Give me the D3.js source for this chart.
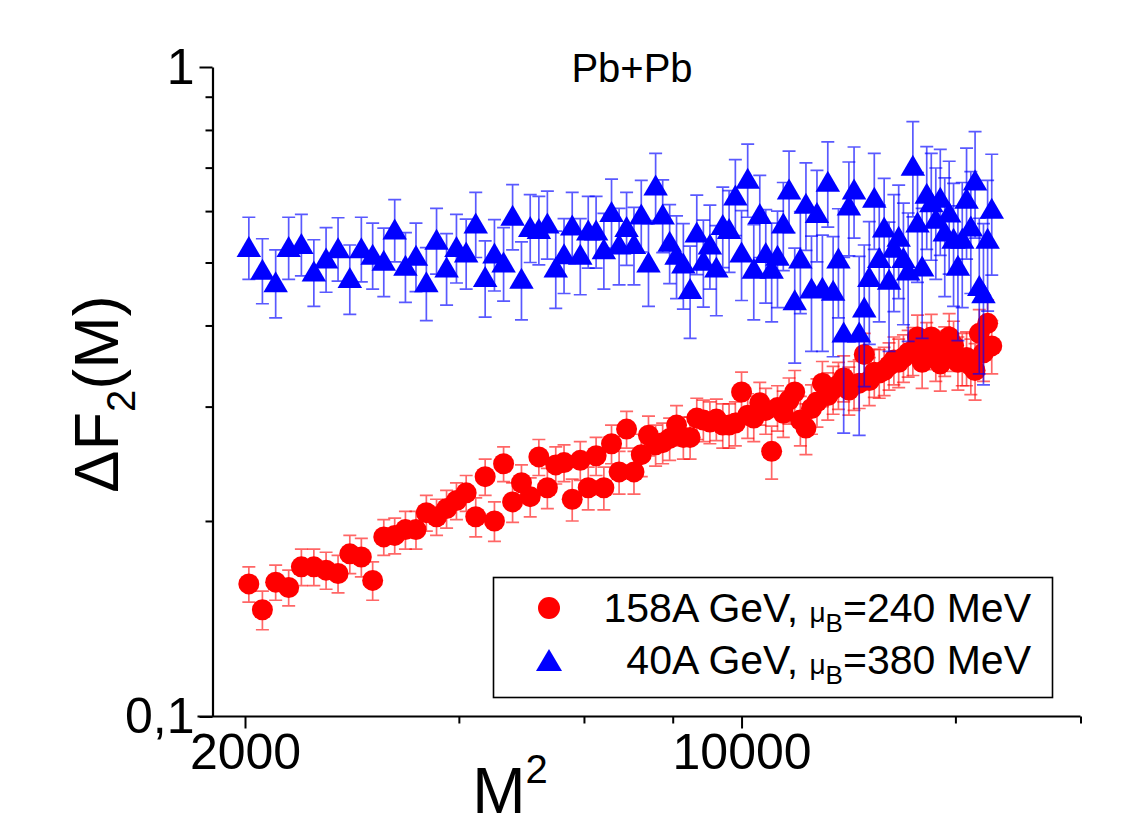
<!DOCTYPE html>
<html>
<head>
<meta charset="utf-8">
<script src="https://cdn.jsdelivr.net/npm/d3@7"></script>
<style>
  body { margin: 0; background: #fff; }
  svg { display: block; font-family: "Liberation Sans", Arial, sans-serif; }
</style>
</head>
<body>
<div id="chart"></div>
<script>
// M values (x is M^2)
const massValues = [
    45, 46, 47, 48, 49, 50, 51, 52, 53, 54,
    55, 56, 57, 58, 59, 60, 61, 62, 63, 64,
    65, 66, 67, 68, 69, 70, 71, 72, 73, 74,
    75, 76, 77, 78, 79, 80, 81, 82, 83, 84,
    85, 86, 87, 88, 89, 90, 91, 92, 93, 94,
    95, 96, 97, 98, 99, 100, 101, 102, 103, 104,
    105, 106, 107, 108, 109, 110, 111, 112, 113, 114,
    115, 116, 117, 118, 119, 120, 121, 122, 123, 124,
    125, 126, 127, 128, 129, 130, 131, 132, 133, 134,
    135, 136, 137, 138, 139, 140, 141, 142, 143, 144,
    145, 146, 147, 148, 149, 150
];

// 158A GeV
const redValues = [
    0.160, 0.146, 0.161, 0.158, 0.170, 0.170, 0.168, 0.166, 0.178, 0.176,
    0.162, 0.189, 0.190, 0.194, 0.194, 0.206, 0.203, 0.209, 0.215, 0.221,
    0.203, 0.234, 0.200, 0.245, 0.214, 0.229, 0.218, 0.251, 0.225, 0.244,
    0.246, 0.216, 0.248, 0.225, 0.252, 0.225, 0.263, 0.238, 0.277, 0.238,
    0.253, 0.271, 0.262, 0.264, 0.268, 0.281, 0.269, 0.269, 0.288, 0.286,
    0.284, 0.287, 0.281, 0.281, 0.283, 0.316, 0.291, 0.288, 0.304, 0.296,
    0.256, 0.299, 0.293, 0.307, 0.316, 0.286, 0.278, 0.298, 0.305, 0.326,
    0.312, 0.319, 0.324, 0.332, 0.318, 0.324, 0.326, 0.361, 0.329, 0.339,
    0.338, 0.341, 0.347, 0.354, 0.351, 0.357, 0.363, 0.366, 0.384, 0.351,
    0.373, 0.384, 0.360, 0.349, 0.366, 0.384, 0.373, 0.351, 0.356, 0.357,
    0.347, 0.341, 0.389, 0.363, 0.403, 0.372
];
const redErrors = [
    0.010, 0.010, 0.010, 0.010, 0.011, 0.011, 0.011, 0.011, 0.012, 0.012,
    0.011, 0.012, 0.012, 0.013, 0.013, 0.013, 0.013, 0.014, 0.014, 0.014,
    0.014, 0.015, 0.014, 0.015, 0.015, 0.015, 0.015, 0.016, 0.016, 0.016,
    0.016, 0.016, 0.017, 0.017, 0.017, 0.017, 0.018, 0.018, 0.018, 0.018,
    0.019, 0.019, 0.019, 0.019, 0.020, 0.020, 0.020, 0.020, 0.021, 0.021,
    0.021, 0.021, 0.022, 0.022, 0.022, 0.023, 0.023, 0.023, 0.023, 0.024,
    0.024, 0.024, 0.024, 0.025, 0.025, 0.025, 0.025, 0.026, 0.026, 0.026,
    0.026, 0.027, 0.027, 0.027, 0.027, 0.028, 0.028, 0.028, 0.028, 0.029,
    0.029, 0.029, 0.029, 0.030, 0.030, 0.030, 0.030, 0.031, 0.031, 0.031,
    0.031, 0.032, 0.032, 0.032, 0.032, 0.033, 0.033, 0.033, 0.033, 0.034,
    0.034, 0.034, 0.034, 0.035, 0.035, 0.035
];

// 40A GeV
const blueValues = [
    0.529, 0.488, 0.467, 0.529, 0.535, 0.485, 0.508, 0.527, 0.474, 0.527,
    0.515, 0.504, 0.563, 0.495, 0.513, 0.467, 0.543, 0.492, 0.529, 0.519,
    0.575, 0.476, 0.517, 0.501, 0.591, 0.473, 0.568, 0.564, 0.575, 0.492,
    0.516, 0.571, 0.515, 0.561, 0.561, 0.525, 0.599, 0.534, 0.568, 0.535,
    0.594, 0.501, 0.658, 0.594, 0.539, 0.515, 0.499, 0.456, 0.557, 0.504,
    0.534, 0.492, 0.572, 0.564, 0.635, 0.519, 0.674, 0.490, 0.595, 0.518,
    0.490, 0.513, 0.575, 0.649, 0.438, 0.508, 0.617, 0.457, 0.597, 0.458,
    0.667, 0.453, 0.508, 0.391, 0.613, 0.649, 0.391, 0.427, 0.476, 0.630,
    0.509, 0.567, 0.471, 0.528, 0.549, 0.509, 0.487, 0.706, 0.577, 0.494,
    0.639, 0.620, 0.585, 0.630, 0.559, 0.598, 0.545, 0.495, 0.545, 0.628,
    0.569, 0.670, 0.461, 0.449, 0.545, 0.606
];
const blueErrors = [
    0.058, 0.056, 0.056, 0.058, 0.058, 0.057, 0.058, 0.059, 0.058, 0.060,
    0.060, 0.061, 0.062, 0.061, 0.062, 0.060, 0.063, 0.062, 0.064, 0.064,
    0.066, 0.064, 0.065, 0.065, 0.068, 0.065, 0.068, 0.068, 0.069, 0.067,
    0.068, 0.070, 0.069, 0.071, 0.071, 0.070, 0.073, 0.072, 0.073, 0.073,
    0.075, 0.073, 0.078, 0.076, 0.075, 0.075, 0.075, 0.074, 0.078, 0.077,
    0.079, 0.078, 0.081, 0.081, 0.085, 0.082, 0.087, 0.082, 0.086, 0.085,
    0.085, 0.087, 0.089, 0.093, 0.088, 0.091, 0.095, 0.092, 0.096, 0.093,
    0.100, 0.095, 0.097, 0.118, 0.101, 0.104, 0.120, 0.105, 0.102, 0.106,
    0.104, 0.107, 0.106, 0.108, 0.109, 0.108, 0.109, 0.118, 0.111, 0.112,
    0.115, 0.116, 0.114, 0.117, 0.116, 0.118, 0.117, 0.116, 0.119, 0.122,
    0.121, 0.125, 0.124, 0.125, 0.124, 0.128
];

const xMajorTicks = [2000, 10000];
const xMinorTicks = [4000, 6000, 8000, 20000, 30000];
const yMajorTicks = [0.1, 1];
const yMinorTicks = [0.2, 0.3, 0.4, 0.5, 0.6, 0.7, 0.8, 0.9];

const xDomain = [1800, 30000];
const yDomain = [0.1, 1];

const width = 1139, height = 828;
const plot = { left: 212.5, right: 1080.5, top: 67, bottom: 716.5 };

const svg = d3.select("#chart").append("svg")
    .attr("width", width)
    .attr("height", height);

svg.append("rect").attr("width", width).attr("height", height).attr("fill", "#fff");

const x = d3.scaleLog().domain(xDomain).range([plot.left, plot.right]);
const y = d3.scaleLog().domain(yDomain).range([plot.bottom, plot.top]);

const locale = d3.formatLocale({ decimal: ",", thousands: "", grouping: [3], currency: ["", ""] });
const yFmt = locale.format("~g");

// series as row objects
const redData = massValues.map((m, i) => ({ x: m * m, y: redValues[i], e: redErrors[i] }));
const blueData = massValues.map((m, i) => ({ x: m * m, y: blueValues[i], e: blueErrors[i] }));

function drawErrorBars(g, data, color, opacity) {
    const cap = 6.5;
    const bars = g.append("g")
        .attr("stroke", color)
        .attr("stroke-opacity", opacity)
        .attr("stroke-width", 1.7)
        .attr("fill", "none");
    bars.selectAll("path")
        .data(data)
        .join("path")
        .attr("d", d => {
            const cx = x(d.x), yt = y(d.y + d.e), yb = y(d.y - d.e);
            return `M${cx},${yt}V${yb}M${cx - cap},${yt}H${cx + cap}M${cx - cap},${yb}H${cx + cap}`;
        });
}

const triangle = (w, h) => `M0,${-h / 2}L${w / 2},${h / 2}L${-w / 2},${h / 2}Z`;

// red series
drawErrorBars(svg, redData, "#ff0000", 0.6);
svg.append("g").selectAll("circle")
    .data(redData)
    .join("circle")
    .attr("cx", d => x(d.x))
    .attr("cy", d => y(d.y))
    .attr("r", 10.5)
    .attr("fill", "#ff0000");

// blue series
drawErrorBars(svg, blueData, "#0000ff", 0.65);
svg.append("g").selectAll("path")
    .data(blueData)
    .join("path")
    .attr("transform", d => `translate(${x(d.x)},${y(d.y)})`)
    .attr("d", triangle(24.5, 21))
    .attr("fill", "#0000ff");

// axes
function styleAxis(g, fontSize) {
    g.selectAll(".domain").attr("stroke", "#000").attr("stroke-width", 2.2);
    g.selectAll(".tick line").attr("stroke", "#000").attr("stroke-width", 2);
    g.selectAll(".tick text").attr("fill", "#000").attr("font-size", fontSize)
        .attr("font-family", "Liberation Sans, Arial, sans-serif");
}

const xAxisG = svg.append("g").attr("transform", `translate(0,${plot.bottom})`)
    .call(d3.axisBottom(x).tickValues(xMajorTicks).tickFormat(d3.format("d"))
        .tickSize(12).tickSizeOuter(0).tickPadding(5));
styleAxis(xAxisG, 50);
xAxisG.select(".domain").attr("d", `M${plot.left - 15},0H${plot.right}`);

const xMinorG = svg.append("g").attr("transform", `translate(0,${plot.bottom})`)
    .call(d3.axisBottom(x).tickValues(xMinorTicks).tickFormat("").tickSize(7).tickSizeOuter(0));
styleAxis(xMinorG, 10);
xMinorG.select(".domain").remove();

const yAxisG = svg.append("g").attr("transform", `translate(${plot.left},0)`)
    .call(d3.axisLeft(y).tickValues(yMajorTicks).tickFormat(yFmt)
        .tickSize(13).tickSizeOuter(0).tickPadding(5));
styleAxis(yAxisG, 50);

const yMinorG = svg.append("g").attr("transform", `translate(${plot.left},0)`)
    .call(d3.axisLeft(y).tickValues(yMinorTicks).tickFormat("").tickSize(7).tickSizeOuter(0));
styleAxis(yMinorG, 10);
yMinorG.select(".domain").remove();

// title and axis labels
svg.append("text")
    .attr("x", 632).attr("y", 82)
    .attr("text-anchor", "middle")
    .attr("font-size", 40)
    .text("Pb+Pb");

const yLabel = svg.append("text")
    .attr("transform", "translate(118,394) rotate(-90)")
    .attr("text-anchor", "middle")
    .attr("font-size", 63);
yLabel.append("tspan").text("ΔF");
yLabel.append("tspan").attr("dy", 17).attr("font-size", 40).text("2");
yLabel.append("tspan").attr("dy", -17).text("(M)");

const xLabel = svg.append("text")
    .attr("x", 510).attr("y", 813)
    .attr("text-anchor", "middle")
    .attr("font-size", 64);
xLabel.append("tspan").text("M");
xLabel.append("tspan").attr("dy", -30).attr("font-size", 40).text("2");

// legend
const legend = svg.append("g");
legend.append("rect")
    .attr("x", 493.5).attr("y", 577.5)
    .attr("width", 559).attr("height", 120)
    .attr("fill", "#fff")
    .attr("stroke", "#000")
    .attr("stroke-width", 1.6);

const legendItems = [
    { color: "#ff0000", shape: "circle", lead: "158A GeV, ", mu: "240 MeV", cy: 608 },
    { color: "#0000ff", shape: "triangle", lead: "40A GeV, ", mu: "380 MeV", cy: 660 }
];
legendItems.forEach(it => {
    if (it.shape === "circle") {
        legend.append("circle").attr("cx", 549).attr("cy", it.cy).attr("r", 11).attr("fill", it.color);
    } else {
        legend.append("path").attr("transform", `translate(549,${it.cy})`)
            .attr("d", triangle(26, 22)).attr("fill", it.color);
    }
    const t = legend.append("text")
        .attr("x", 1031).attr("y", it.cy + 14)
        .attr("text-anchor", "end")
        .attr("font-size", 41);
    t.append("tspan").text(it.lead);
    t.append("tspan").attr("font-size", 28).text("μ");
    t.append("tspan").attr("font-size", 26).attr("dy", 10).text("B");
    t.append("tspan").attr("dy", -10).text("=" + it.mu);
});
</script>
</body>
</html>
